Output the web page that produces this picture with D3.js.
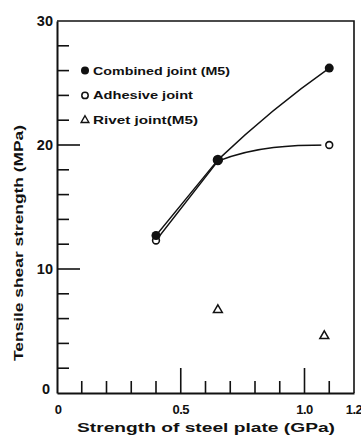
<!DOCTYPE html>
<html><head><meta charset="utf-8">
<script src="https://cdn.jsdelivr.net/npm/d3@7"></script>
<style>body{margin:0;background:#fff}svg{display:block}text{font-family:"Liberation Sans",Arial,sans-serif;font-weight:bold;fill:#111}</style>
</head><body>
<script>
const combinedX = [0.4, 0.65, 1.1];
const combinedY = [12.7, 18.8, 26.2];
const adhesiveX = [0.4, 0.65, 1.1];
const adhesiveY = [12.3, 18.7, 20.0];
const rivetX = [0.65, 1.08];
const rivetY = [6.7, 4.6];
const xTickLabels = [[0, "0"], [0.5, "0.5"], [1.0, "1.0"], [1.2, "1.2"]];
const yTickLabels = [[0, "0"], [10, "10"], [20, "20"], [30, "30"]];
const legendLabels = ["Combined joint (M5)", "Adhesive joint", "Rivet joint(M5)"];
const legendY = [26, 24, 22];

const W = 361, H = 438;
const svg = d3.select("body").append("svg").attr("width", W).attr("height", H);
const x = d3.scaleLinear().domain([0, 1.2]).range([57, 354]);
const y = d3.scaleLinear().domain([0, 30]).range([393, 21]);
const ink = "#111";

// frame
svg.append("path").attr("d", `M${x(0)},${y(30)}H${x(1.2)}V${y(0)}`).attr("fill", "none").attr("stroke", ink).attr("stroke-width", 1.6);
// axes
const xAxis = d3.axisBottom(x).tickValues(d3.range(0, 13).map(d => d / 10)).tickSize(0).tickFormat("");
svg.append("g").attr("transform", `translate(0,${y(0)})`).call(xAxis).select(".domain").attr("stroke", ink).attr("stroke-width", 2);
const yAxis = d3.axisLeft(y).tickValues([0, 30]).tickSize(0).tickFormat("");
svg.append("g").attr("transform", `translate(${x(0)},0)`).call(yAxis).select(".domain").attr("stroke", ink).attr("stroke-width", 2);

// x ticks (inward, up)
d3.range(1, 12).map(d => d / 10).forEach(v => {
  const major = Math.abs(v - 0.5) < 1e-9 || Math.abs(v - 1.0) < 1e-9;
  svg.append("line").attr("x1", x(v)).attr("x2", x(v)).attr("y1", y(0)).attr("y2", y(0) - (major ? 25 : 12))
    .attr("stroke", ink).attr("stroke-width", 1.6);
});
// y ticks (inward, right)
d3.range(2, 30, 2).forEach(v => {
  const major = v === 10 || v === 20;
  svg.append("line").attr("x1", x(0)).attr("x2", x(0) + (major ? 23 : 12)).attr("y1", y(v)).attr("y2", y(v))
    .attr("stroke", ink).attr("stroke-width", 1.6);
});

// tick labels
xTickLabels.forEach(([v, t]) => {
  svg.append("text").attr("x", v === 0 ? x(v) + 1 : x(v)).attr("y", 414).attr("text-anchor", "middle")
    .attr("font-size", 13).attr("letter-spacing", -0.5).text(t);
});
yTickLabels.forEach(([v, t]) => {
  svg.append("text").attr("x", v === 0 ? 50 : 53).attr("y", y(v) + (v === 0 ? 1 : 5)).attr("text-anchor", "end")
    .attr("font-size", 14.5).text(t);
});

// axis titles
svg.append("text").attr("x", 206).attr("y", 432).attr("text-anchor", "middle").attr("font-size", 13.5)
  .attr("textLength", 258).attr("lengthAdjust", "spacingAndGlyphs").text("Strength of steel plate (GPa)");
svg.append("text").attr("transform", "translate(23,243) rotate(-90)").attr("text-anchor", "middle").attr("font-size", 13)
  .attr("textLength", 236).attr("lengthAdjust", "spacingAndGlyphs").text("Tensile shear strength (MPa)");

// curves: straight first segment, then a smooth bend with given end slopes (data units)
function curvePath(xs, ys, m1, m2) {
  const p = d3.path();
  p.moveTo(x(xs[0]), y(ys[0]));
  p.lineTo(x(xs[1]), y(ys[1]));
  const dx = (xs[2] - xs[1]) / 3;
  p.bezierCurveTo(x(xs[1] + dx), y(ys[1] + m1 * dx), x(xs[2] - dx), y(ys[2] - m2 * dx), x(xs[2]), y(ys[2]));
  return p.toString();
}
svg.append("path").attr("d", curvePath(adhesiveX, adhesiveY, 8, 0))
  .attr("fill", "none").attr("stroke", ink).attr("stroke-width", 1.4);
svg.append("path").attr("d", curvePath(combinedX, combinedY, 19, 14))
  .attr("fill", "none").attr("stroke", ink).attr("stroke-width", 1.4);

// markers
const tri = d3.symbol().type(d3.symbolTriangle).size(34);
adhesiveX.forEach((v, i) => {
  if (i === adhesiveX.length - 1)
    svg.append("circle").attr("cx", x(v)).attr("cy", y(adhesiveY[i])).attr("r", 8).attr("fill", "#fff");
  svg.append("circle").attr("cx", x(v)).attr("cy", y(adhesiveY[i])).attr("r", 3.4)
    .attr("fill", "#fff").attr("stroke", ink).attr("stroke-width", 1.6);
});
combinedX.forEach((v, i) => {
  svg.append("circle").attr("cx", x(v)).attr("cy", y(combinedY[i])).attr("r", i === 1 ? 5.2 : 4.5).attr("fill", ink);
});
rivetX.forEach((v, i) => {
  svg.append("path").attr("d", tri).attr("transform", `translate(${x(v)},${y(rivetY[i])})`)
    .attr("fill", "#fff").attr("stroke", ink).attr("stroke-width", 1.5);
});

// legend
const lx = 85;
const lWidths = [137, 100, 105];
legendLabels.forEach((t, i) => {
  const cy = y(legendY[i]);
  if (i === 0) svg.append("circle").attr("cx", lx).attr("cy", cy).attr("r", 4).attr("fill", ink);
  if (i === 1) svg.append("circle").attr("cx", lx).attr("cy", cy).attr("r", 3.2).attr("fill", "#fff").attr("stroke", ink).attr("stroke-width", 1.5);
  if (i === 2) svg.append("path").attr("d", d3.symbol().type(d3.symbolTriangle).size(26)).attr("transform", `translate(${lx},${cy})`)
    .attr("fill", "#fff").attr("stroke", ink).attr("stroke-width", 1.4);
  svg.append("text").attr("x", lx + 8).attr("y", cy + 4).attr("font-size", 10.5)
    .attr("textLength", lWidths[i]).attr("lengthAdjust", "spacingAndGlyphs").text(t);
});
</script>
</body></html>
